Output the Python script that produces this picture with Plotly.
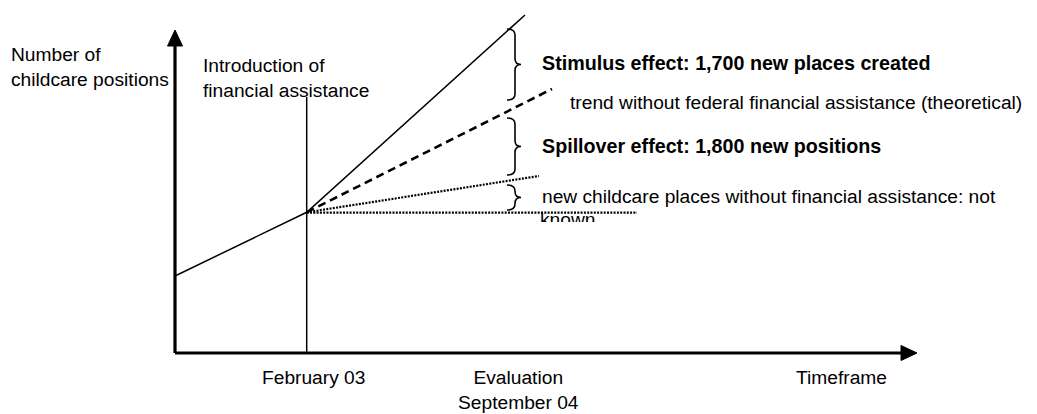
import plotly.graph_objects as go

# ---- data (conceptual chart, units: time-axis position / number of positions) ----
time_actual = [175, 306.7, 525]
pos_actual = [138, 201.7, 399]
time_trend = [306.7, 552]
pos_trend = [201.7, 325]
time_nofund = [306.7, 539]
pos_nofund = [201.7, 238]
time_flat = [306.7, 637]
pos_flat = [201.3, 201.3]
intro_time = 306.7
intro_pos = [61, 317]

axis_origin = (175, 61)
x_axis_end = 917
y_axis_end = 384

brace_x = 515
brace_spans = [(385, 314), (296, 239), (229, 204)]

tick_labels = ["February 03", "Evaluation<br>September 04", "Timeframe"]
tick_times = [313, 518, 841]
tick_pos = [37, 24, 37]

FONT = "Liberation Sans, Arial, Helvetica"
FS = 19.2
FSB = 19.7
BLACK = "#000000"

fig = go.Figure()

def line(xs, ys, width=1.5, dash="solid"):
    fig.add_trace(go.Scatter(x=xs, y=ys, mode="lines",
                             line=dict(color=BLACK, width=width, dash=dash),
                             hoverinfo="skip", showlegend=False))

# axes
ox, oy = axis_origin
line([ox, x_axis_end - 14], [oy, oy], width=3.2)
line([ox, ox], [oy, y_axis_end - 14], width=3.2)
# intro vertical
line([intro_time, intro_time], intro_pos, width=1.5)
# series
line(time_actual, pos_actual, width=1.5)
line(time_trend, pos_trend, width=2.6, dash="8px,5px")
line(time_nofund, pos_nofund, width=2.2, dash="2px,1.3px")
line(time_flat, pos_flat, width=2.2, dash="2px,1.3px")

shapes = []
# arrowheads
shapes.append(dict(type="path", xref="x", yref="y",
                   path=f"M {ox-7.5},{y_axis_end-16} L {ox+7.5},{y_axis_end-16} L {ox},{y_axis_end} Z",
                   fillcolor=BLACK, line=dict(color=BLACK, width=1)))
shapes.append(dict(type="path", xref="x", yref="y",
                   path=f"M {x_axis_end-16},{oy+7.5} L {x_axis_end-16},{oy-7.5} L {x_axis_end},{oy} Z",
                   fillcolor=BLACK, line=dict(color=BLACK, width=1)))

# braces
for top, bot in brace_spans:
    mid = (top + bot) / 2
    r = 6
    x0 = brace_x - 8
    tip = brace_x + 6
    p = (f"M {x0},{top} Q {brace_x},{top} {brace_x},{top - r} "
         f"L {brace_x},{mid + r} Q {brace_x},{mid} {tip},{mid} "
         f"Q {brace_x},{mid} {brace_x},{mid - r} "
         f"L {brace_x},{bot + r} Q {brace_x},{bot} {x0},{bot}")
    shapes.append(dict(type="path", xref="x", yref="y", path=p,
                       line=dict(color=BLACK, width=1.6)))

# "known" text, clipped by its text box as in the original
fig.add_trace(go.Scatter(x=[540], y=[193], mode="text", text=["known"],
                         textposition="middle right",
                         textfont=dict(family=FONT, size=FS, color=BLACK),
                         hoverinfo="skip", showlegend=False, cliponaxis=False))
shapes.append(dict(type="rect", xref="x", yref="y", x0=536, x1=620, y0=175, y1=192,
                   fillcolor="white", line=dict(width=0), layer="above"))

annotations = []
def text(x, y, s, bold=False, anchor="left"):
    annotations.append(dict(x=x, y=y, xref="x", yref="y", text=(f"<b>{s}</b>" if bold else s),
                            showarrow=False, xanchor=anchor, yanchor="middle", align=anchor,
                            font=dict(family=FONT, size=(FSB if bold else FS), color=BLACK)))

text(9, 347, "Number of<br>childcare positions")
text(201, 336, "Introduction of<br>financial assistance")
text(540, 351, "Stimulus effect: 1,700 new places created", bold=True)
text(568, 312, "trend without federal financial assistance (theoretical)")
text(540, 268, "Spillover effect: 1,800 new positions", bold=True)
text(540, 218, "new childcare places without financial assistance: not")
for t, p, lab in zip(tick_times, tick_pos, tick_labels):
    text(t, p, lab, anchor="center")

# the page body has an 8px margin: shift ranges so data units equal page pixels
fig.update_layout(
    width=1029, height=406,
    margin=dict(l=0, r=0, t=0, b=0),
    paper_bgcolor="white", plot_bgcolor="white",
    xaxis=dict(range=[8, 1037], visible=False, fixedrange=True),
    yaxis=dict(range=[0, 406], visible=False, fixedrange=True),
    shapes=shapes, annotations=annotations,
    showlegend=False,
)
fig.write_html("out.html")
